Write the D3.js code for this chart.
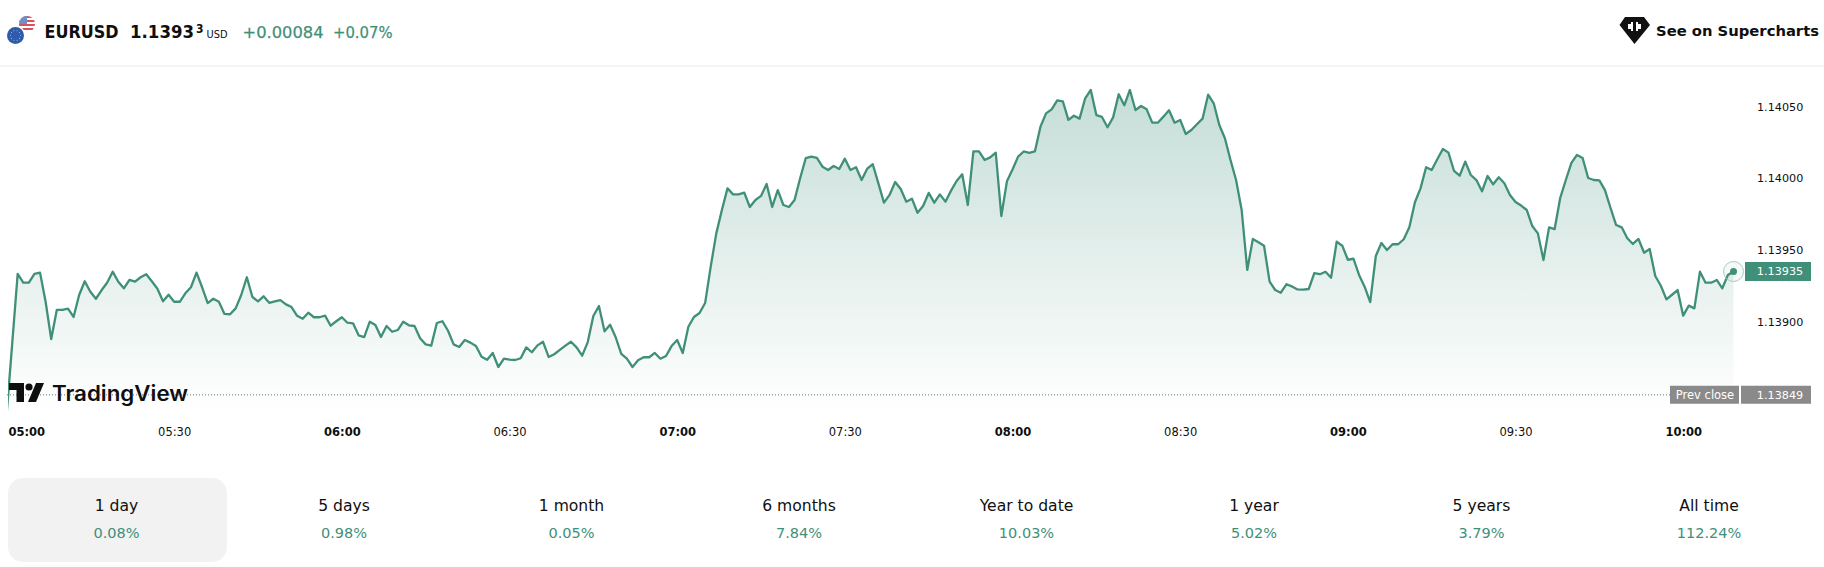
<!DOCTYPE html>
<html>
<head>
<meta charset="utf-8">
<script src="https://cdn.jsdelivr.net/npm/d3@7/dist/d3.min.js"></script>
<style>
html,body{margin:0;padding:0;background:#fff;overflow:hidden}
svg{display:block}
text{font-family:"DejaVu Sans",sans-serif}
</style>
</head>
<body>
<svg id="c" width="1824" height="567"></svg>
<script>
// ---- data ----
const closes = [
1.138342,1.138837,1.139333,1.139272,1.139272,1.139333,1.139342,1.139139,1.138879,1.139082,
1.139082,1.139091,1.139033,1.139186,1.139282,1.139209,1.139160,1.139219,1.139272,1.139349,
1.139279,1.139233,1.139291,1.139279,1.139310,1.139331,1.139282,1.139230,1.139142,1.139188,
1.139139,1.139139,1.139198,1.139240,1.139342,1.139240,1.139130,1.139160,1.139139,1.139054,
1.139052,1.139093,1.139186,1.139310,1.139172,1.139142,1.139177,1.139132,1.139142,1.139151,
1.139121,1.139102,1.139041,1.139021,1.139063,1.139031,1.139031,1.139042,1.138972,1.139003,
1.139031,1.138993,1.138989,1.138905,1.138893,1.139000,1.138977,1.138893,1.138970,1.138930,
1.138942,1.139000,1.138975,1.138970,1.138884,1.138842,1.138833,1.138991,1.139003,1.138937,
1.138842,1.138824,1.138872,1.138854,1.138830,1.138756,1.138735,1.138782,1.138684,1.138742,
1.138735,1.138733,1.138745,1.138821,1.138787,1.138835,1.138860,1.138754,1.138773,1.138803,
1.138833,1.138860,1.138821,1.138763,1.138858,1.139040,1.139109,1.138933,1.138979,1.138891,
1.138775,1.138742,1.138684,1.138731,1.138752,1.138752,1.138782,1.138742,1.138761,1.138830,
1.138872,1.138782,1.138965,1.139033,1.139061,1.139130,1.139384,1.139616,1.139779,1.139930,
1.139888,1.139888,1.139900,1.139800,1.139849,1.139877,1.139960,1.139800,1.139918,1.139814,
1.139800,1.139849,1.140000,1.140140,1.140151,1.140142,1.140081,1.140058,1.140086,1.140065,
1.140137,1.140058,1.140077,1.139988,1.140067,1.140098,1.139965,1.139830,1.139884,1.139974,
1.139925,1.139837,1.139858,1.139760,1.139807,1.139898,1.139830,1.139888,1.139837,1.139914,
1.139981,1.140028,1.139814,1.140188,1.140188,1.140128,1.140146,1.140179,1.139737,1.139979,
1.140061,1.140151,1.140187,1.140178,1.140187,1.140360,1.140453,1.140481,1.140543,1.140537,
1.140407,1.140436,1.140416,1.140558,1.140616,1.140441,1.140428,1.140356,1.140425,1.140586,
1.140509,1.140616,1.140476,1.140504,1.140481,1.140388,1.140388,1.140430,1.140474,1.140388,
1.140407,1.140309,1.140337,1.140377,1.140416,1.140583,1.140523,1.140372,1.140279,1.140128,
1.139988,1.139779,1.139361,1.139577,1.139554,1.139530,1.139279,1.139221,1.139202,1.139261,
1.139246,1.139225,1.139223,1.139228,1.139338,1.139331,1.139348,1.139307,1.139558,1.139530,
1.139432,1.139439,1.139326,1.139244,1.139137,1.139458,1.139549,1.139500,1.139540,1.139540,
1.139575,1.139658,1.139833,1.139930,1.140077,1.140058,1.140133,1.140204,1.140179,1.140051,
1.140018,1.140116,1.140023,1.139988,1.139909,1.140016,1.139958,1.140007,1.139965,1.139884,
1.139835,1.139810,1.139779,1.139667,1.139616,1.139430,1.139658,1.139646,1.139864,1.139988,
1.140107,1.140163,1.140142,1.140002,1.139988,1.139985,1.139918,1.139793,1.139674,1.139658,
1.139582,1.139542,1.139577,1.139481,1.139507,1.139319,1.139251,1.139156,1.139188,1.139221,
1.139042,1.139112,1.139093,1.139349,1.139272,1.139272,1.139291,1.139233,1.139326,1.139350
];
const priceTicks = [1.14050, 1.14000, 1.13950, 1.13900];
const timeTickMinutes = [0, 30, 60, 90, 120, 150, 180, 210, 240, 270, 300];
const timeTickLabels = ["05:00","05:30","06:00","06:30","07:00","07:30","08:00","08:30","09:00","09:30","10:00"];
const lastPrice = 1.13935;
const prevClose = 1.13849;
const periodNames = ["1 day","5 days","1 month","6 months","Year to date","1 year","5 years","All time"];
const periodChanges = ["0.08%","0.98%","0.05%","7.84%","10.03%","5.02%","3.79%","112.24%"];

// ---- layout ----
const GREEN = "#3f8f79", INK = "#0f0f0f", GRAY = "#8a8a8a";
const plot = {left:8, right:1745, top:66, bottom:411};
const svg = d3.select("#c");
const x = d3.scaleLinear().domain([0, closes.length - 1]).range([6.5, 1733.5]);
const y = d3.scaleLinear().domain([1.1395, 1.1390]).range([250, 321.7]);

const defs = svg.append("defs");
const grad = defs.append("linearGradient").attr("id","fade").attr("gradientUnits","userSpaceOnUse")
  .attr("x1",0).attr("x2",0).attr("y1",y(d3.max(closes))).attr("y2",plot.bottom);
grad.append("stop").attr("offset",0).attr("stop-color",GREEN).attr("stop-opacity",0.30);
grad.append("stop").attr("offset",1).attr("stop-color",GREEN).attr("stop-opacity",0.0);
defs.append("clipPath").attr("id","pane").append("rect")
  .attr("x",plot.left).attr("y",plot.top).attr("width",plot.right-plot.left).attr("height",plot.bottom-plot.top);

// header
const head = svg.append("g");
head.append("line").attr("x1",0).attr("x2",1824).attr("y1",66).attr("y2",66).attr("stroke","#ebebeb");
const flag = head.append("g");
defs.append("clipPath").attr("id","us").append("circle").attr("cx",27).attr("cy",24).attr("r",8);
const us = flag.append("g").attr("clip-path","url(#us)");
us.append("rect").attr("x",19).attr("y",16).attr("width",16).attr("height",16).attr("fill","#fff");
d3.range(4).forEach(k => us.append("rect").attr("x",19).attr("y",16+k*4).attr("width",16).attr("height",2).attr("fill","#d9515c"));
us.append("rect").attr("x",19).attr("y",16).attr("width",8).attr("height",8).attr("fill","#6f8fc9");
flag.append("circle").attr("cx",15.5).attr("cy",35.5).attr("r",10).attr("fill","#fff");
flag.append("circle").attr("cx",15.5).attr("cy",35.5).attr("r",8.5).attr("fill","#2f5bab");
d3.range(10).forEach(k => flag.append("circle")
  .attr("cx",15.5+5*Math.cos(k*Math.PI/5)).attr("cy",35.5+5*Math.sin(k*Math.PI/5)).attr("r",0.6).attr("fill","#9fb4d8"));

const T = (s,px,pya,size,weight,fill,len) => {
  const t = head.append("text").attr("x",px).attr("y",pya).attr("font-size",size)
    .attr("font-weight",weight).attr("fill",fill).text(s);
  if (len) t.attr("textLength",len).attr("lengthAdjust","spacingAndGlyphs");
  return t;
};
T("EURUSD",44.5,37.5,17,"bold",INK,74);
T("1.1393",130,37.5,17,"bold",INK,64);
T("3",196,33,11.5,"bold",INK,7.5);
T("USD",206.5,37.5,11,"normal",INK,21);
T("+0.00084",242.5,37.5,16.5,"normal",GREEN,81).attr("stroke",GREEN).attr("stroke-width",0.25);
T("+0.07%",333,37.5,16.5,"normal",GREEN,59.5).attr("stroke",GREEN).attr("stroke-width",0.25);
T("See on Supercharts",1656,36,14.5,"bold",INK,163);
// diamond badge
head.append("path").attr("d","M1625 17 H1644 L1650 25 L1634.5 44 L1619.5 25 Z").attr("fill","#111");
head.append("path").attr("d","M1628 24 h3 v-2 h2 v9 h-2 v-2 h-3 Z M1636 22 h2 v2 h3 v5 h-3 v2 h-2 Z").attr("fill","#fff");

// area + line
const pane = svg.append("g").attr("clip-path","url(#pane)");
pane.append("path").datum(closes)
  .attr("d", d3.area().x((d,i)=>x(i)).y0(plot.bottom).y1(d=>y(d)))
  .attr("fill","url(#fade)");
pane.append("path").datum(closes)
  .attr("d", d3.line().x((d,i)=>x(i)).y(d=>y(d)))
  .attr("fill","none").attr("stroke",GREEN).attr("stroke-width",2.3).attr("stroke-linejoin","round");

// previous close dotted line
svg.append("line").attr("x1",7).attr("x2",1670).attr("y1",y(prevClose)).attr("y2",y(prevClose))
  .attr("stroke","#777").attr("stroke-width",1).attr("stroke-dasharray","1 2");

// TradingView mark
const mark = svg.append("g").attr("fill","#0f0f0f");
mark.append("path").attr("d","M9 383 H24 V402 H16.5 V390 H9 Z");
mark.append("circle").attr("cx",29).attr("cy",387).attr("r",3.6);
mark.append("path").attr("d","M36 383 H44 L36 402 H28 Z");
mark.append("text").attr("x",52).attr("y",401).attr("font-size",21).attr("font-weight",600)
  .style("font-family","Inter, sans-serif")
  .attr("textLength",136).attr("lengthAdjust","spacingAndGlyphs").text("TradingView");

// last price marker
const lastX = x(closes.length - 1), lastY = y(closes[closes.length - 1]);
svg.append("circle").attr("cx",lastX).attr("cy",lastY).attr("r",10).attr("fill","rgba(62,142,120,.05)").attr("stroke","#a3cdc0");
svg.append("circle").attr("cx",lastX).attr("cy",lastY).attr("r",3.5).attr("fill",GREEN);

// y axis
const yAxis = svg.append("g").attr("transform","translate(1757,0)")
  .call(d3.axisRight(y).tickValues(priceTicks).tickFormat(d3.format(".5f")).tickSize(0).tickPadding(0));
yAxis.select(".domain").remove();
yAxis.selectAll("text").attr("font-size",11.2).attr("fill",INK).attr("font-family","DejaVu Sans");

// x axis
const xAxis = svg.append("g").attr("transform","translate(0,428)")
  .call(d3.axisBottom(x).tickValues(timeTickMinutes).tickFormat((d,i)=>timeTickLabels[i]).tickSize(0).tickPadding(0));
xAxis.select(".domain").remove();
xAxis.selectAll("text").attr("font-size",11.5).attr("fill",INK).attr("font-family","DejaVu Sans")
  .attr("font-weight",(d)=> d % 60 === 0 ? "bold" : "normal");
xAxis.selectAll("text").filter(d=>d===0).attr("text-anchor","start").attr("x",1.5);

// price tags
const tag = (x0,w,yc,h,fill,label,anchorX,size) => {
  svg.append("path").attr("d",d3.line()([[x0,yc-h/2],[x0+w,yc-h/2],[x0+w,yc+h/2],[x0,yc+h/2]])+"Z").attr("fill",fill);
  svg.append("text").attr("x",anchorX).attr("y",yc).attr("dy","0.35em").attr("text-anchor","middle")
    .attr("font-size",size).attr("fill","#fff").text(label);
};
tag(1745,66,y(lastPrice),19,GREEN,d3.format(".5f")(lastPrice),1780,11.2);
tag(1670,69,y(prevClose),18,GRAY,"Prev close",1705,11.5);
tag(1741,70,y(prevClose),18,GRAY,d3.format(".5f")(prevClose),1780,11.2);

// period selector
const px = d3.scalePoint().domain(periodNames).range([116.5,1709]);
svg.append("rect").attr("x",8).attr("y",478).attr("width",219).attr("height",84).attr("rx",15).attr("fill","#f2f2f2");
const cells = svg.append("g").selectAll("g").data(periodNames).join("g").attr("transform",d=>`translate(${px(d)},0)`);
cells.append("text").attr("y",506).attr("dy","0.35em").attr("text-anchor","middle").attr("font-size",15.6).attr("fill",INK).text(d=>d);
cells.append("text").attr("y",533).attr("dy","0.35em").attr("text-anchor","middle").attr("font-size",14.5).attr("fill",GREEN).text((d,i)=>periodChanges[i]);
</script>
</body>
</html>
